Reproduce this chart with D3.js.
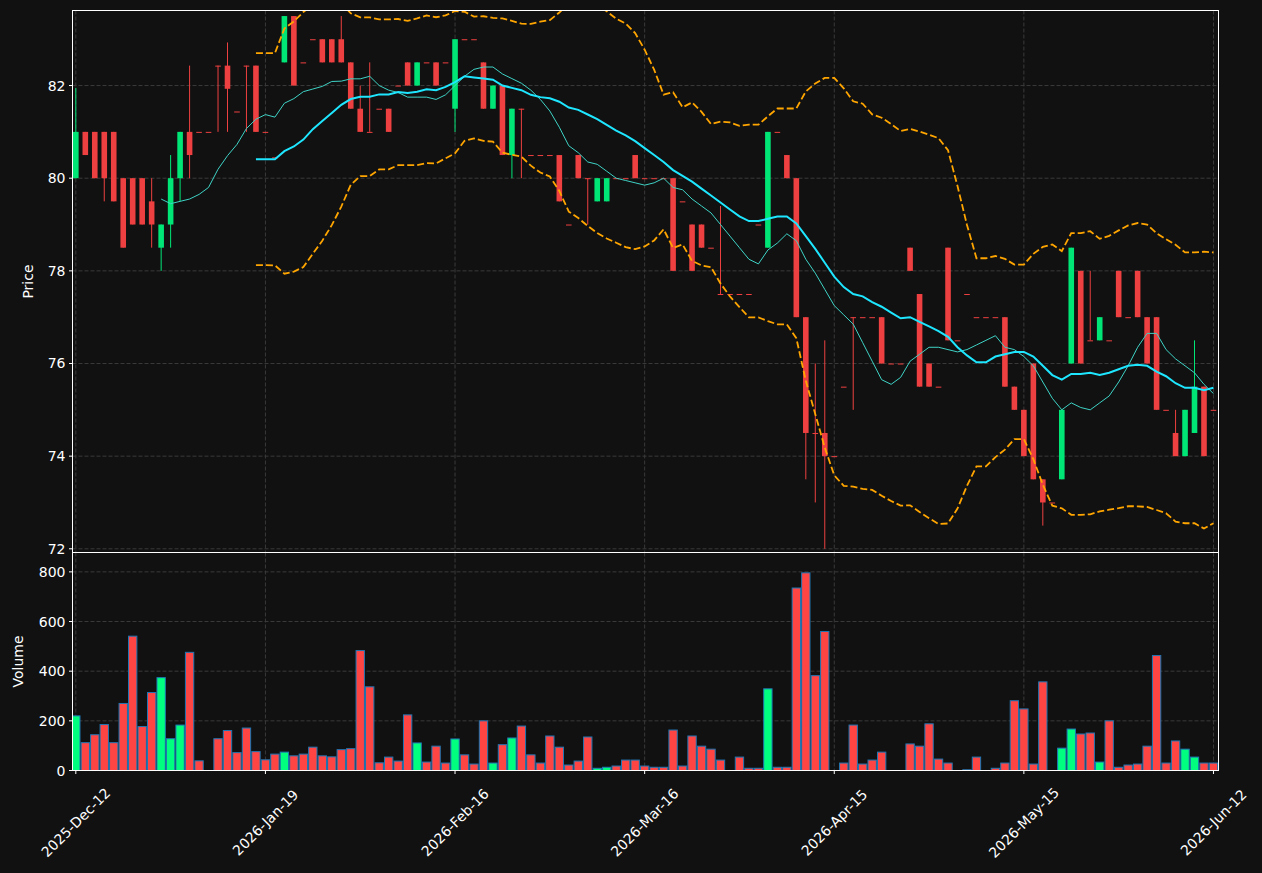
<!DOCTYPE html>
<html>
<head>
<meta charset="utf-8">
<script src="https://cdn.jsdelivr.net/npm/d3@7"></script>
<style>
  html, body { margin: 0; padding: 0; background: #111111; }
  svg { display: block; }
  text { font-family: "DejaVu Sans", sans-serif; fill: #ffffff; }
</style>
</head>
<body>
<svg id="chart" width="1262" height="873"></svg>
<script>
// ---- Data ----
const tickLabels = ["2025-Dec-12", "2026-Jan-19", "2026-Feb-16", "2026-Mar-16", "2026-Apr-15", "2026-May-15", "2026-Jun-12"];
const tickIndex = [0, 20, 40, 60, 80, 100, 120];

const openP = [
  80, 81, 81, 81, 81, 80, 80, 80, 79.5, 78.5,
  79, 80, 81, 81, 81, 82.43, 82.43, 81.44, 82.43, 82.43,
  81, 80.45, 82.5, 83.5, 82.5, 83, 83, 83, 83, 82.5,
  81.5, 81, 81.5, 81.5, 82, 82.5, 82, 82.5, 82.5, 82.5,
  81.5, 83, 83, 82.5, 81.5, 82, 80.5, 81.5, 80.5, 80.5,
  80.5, 80.5, 79, 80.5, 80, 79.5, 79.5, 80, 80, 80.5,
  80, 80, 80, 80, 79.5, 79, 79, 78.5, 77.5, 77.5,
  77.5, 77.5, 79, 78.5, 81, 80.5, 80, 77, 74.5, 74.5,
  74, 75.5, 77, 77, 77, 77, 76, 76, 78.5, 77.5,
  76, 75.5, 78.5, 76.5, 77.5, 77, 77, 77, 77, 75.5,
  75, 76, 73.5, 73, 73.5, 76, 78, 76.5, 76.5, 76.5,
  78, 77, 78, 77, 77, 75, 74.5, 74, 74.5, 75.5,
  75
];
const highP = [
  81.95, 81, 81, 81, 81, 80, 80, 80, 80, 79,
  80.5, 81, 82.43, 81, 81, 82.43, 82.93, 81.44, 82.43, 82.43,
  81, 80.45, 83.5, 83.5, 82.5, 83, 83, 83, 83.5, 82.5,
  82, 82.5, 81.5, 81.5, 82, 82.5, 82.5, 82.5, 82.5, 82.5,
  83, 83, 83, 82.5, 82, 82, 81.5, 81.5, 80.5, 80.5,
  80.5, 80.5, 79, 80.5, 80, 80, 80, 80, 80, 80.5,
  80, 80, 80, 80, 79.5, 79, 79, 78.5, 79.4, 77.5,
  77.5, 77.5, 79, 81, 81, 80.5, 80, 77, 76, 76.5,
  74, 75.5, 77, 77, 77, 77, 76, 76, 78.5, 77.5,
  76, 75.5, 78.5, 76.5, 77.5, 77, 77, 77, 77, 75.5,
  75, 76, 73.5, 73, 75, 78.5, 78, 78, 77, 76.5,
  78, 77, 78, 77, 77, 75, 75, 75, 76.5, 75.5,
  75
];
const lowP = [
  80, 80.5, 80, 79.5, 79.5, 78.5, 79, 79, 78.5, 78,
  78.5, 79.5, 80, 81, 81, 81, 81, 81.44, 81, 81,
  81, 80.45, 82.5, 82, 82.5, 83, 82.5, 82.5, 82.5, 81.5,
  81, 81, 81.5, 81, 82, 82, 82, 82.5, 82, 82.5,
  81, 83, 83, 81.5, 81.5, 80.5, 80, 80, 80.5, 80.5,
  80.5, 79.5, 79, 80, 79, 79.5, 79.5, 80, 80, 80,
  80, 80, 80, 78, 79.5, 78, 78.5, 78.5, 77.5, 77.5,
  77.5, 77.5, 79, 78.5, 81, 80, 77, 73.5, 73, 72,
  74, 75.5, 75, 77, 77, 76, 76, 76, 78, 75.5,
  75.5, 75.5, 76.5, 76.5, 77.5, 77, 77, 77, 75.5, 75,
  74, 73.5, 72.5, 73, 73.5, 76, 76, 76.5, 76.5, 76.5,
  77, 77, 77, 76, 75, 75, 74, 74, 74.5, 74,
  75
];
const closeP = [
  81, 80.5, 80, 80, 79.5, 78.5, 79, 79, 79, 79,
  80, 81, 80.5, 81, 81, 82.43, 81.93, 81.44, 82.43, 81,
  81, 80.45, 83.5, 82, 82.5, 83, 82.5, 82.5, 82.5, 81.5,
  81, 81, 81.5, 81, 82, 82, 82.5, 82.5, 82, 82.5,
  83, 83, 83, 81.5, 82, 80.5, 81.5, 81.5, 80.5, 80.5,
  80.5, 79.5, 79, 80, 80, 80, 80, 80, 80, 80,
  80, 80, 80, 78, 79.5, 78, 78.5, 78.5, 77.5, 77.5,
  77.5, 77.5, 79, 81, 81, 80, 77, 74.5, 74.5, 74,
  74, 75.5, 77, 77, 77, 76, 76, 76, 78, 75.5,
  75.5, 75.5, 76.5, 76.5, 77.5, 77, 77, 77, 75.5, 75,
  74, 73.5, 73, 73, 75, 78.5, 76, 76.5, 77, 76.5,
  77, 77, 77, 76, 75, 75, 74, 75, 75.5, 74,
  75
];
const volume = [
  220, 112, 144, 185, 112, 270, 541, 177, 314, 374,
  128, 183, 476, 39, 0, 128, 161, 72, 171, 76,
  43, 66, 74, 59, 66, 94, 59, 55, 84, 88,
  483, 337, 31, 54, 38, 224, 111, 34, 98, 30,
  127, 63, 26, 200, 30, 104, 131, 179, 63, 30,
  139, 94, 22, 38, 135, 9, 13, 18, 42, 42,
  18, 13, 13, 163, 18, 139, 98, 86, 42, 0,
  54, 9, 9, 329, 13, 13, 735, 796, 382, 560,
  0, 30, 183, 26, 42, 74, 0, 0, 107, 98,
  188, 46, 30, 0, 3, 54, 0, 9, 30, 281,
  248, 26, 357, 0, 90, 167, 147, 151, 34, 200,
  13, 22, 26, 98, 463, 30, 119, 86, 54, 30,
  30
];
const priceTicks = [72, 74, 76, 78, 80, 82];
const volumeTicks = [0, 200, 400, 600, 800];
const maShortPeriod = 10;
const maLongPeriod = 20;
const bbMult = 2;

// ---- Layout ----
const L = 72.5, R = 1218.5;
const pTop = 10.5, pBot = 552.5;
const vTop = 552.5, vBot = 770.5;
const N = closeP.length;

const svg = d3.select("#chart");
svg.append("rect").attr("width", 1262).attr("height", 873).attr("fill", "#111111");

const x = d3.scaleLinear().domain([-0.35, 120.53]).range([L, R]);
const yP = d3.scaleLinear().domain([71.92, 83.62]).range([pBot, pTop]);
const yV = d3.scaleLinear().domain([0, 878]).range([vBot, vTop]);
const step = x(1) - x(0);

const upC = "#00e676", dnC = "#ee4040";
const upV = "#00ff7f", dnV = "#ff4444";
const gridC = "#3a3a3a";

const defs = svg.append("defs");
defs.append("clipPath").attr("id", "clipP").append("rect")
  .attr("x", L).attr("y", pTop).attr("width", R - L).attr("height", pBot - pTop);
defs.append("clipPath").attr("id", "clipV").append("rect")
  .attr("x", L).attr("y", vTop).attr("width", R - L).attr("height", vBot - vTop);

// ---- Grids ----
function vgrid(y0, y1) {
  svg.append("g").selectAll("line").data(tickIndex).join("line")
    .attr("x1", d => x(d)).attr("x2", d => x(d))
    .attr("y1", y0).attr("y2", y1)
    .attr("stroke", gridC).attr("stroke-width", 1).attr("stroke-dasharray", "4,2");
}
vgrid(pTop, pBot);
vgrid(vTop, vBot);
svg.append("g").selectAll("line").data(priceTicks).join("line")
  .attr("x1", L).attr("x2", R).attr("y1", d => yP(d)).attr("y2", d => yP(d))
  .attr("stroke", gridC).attr("stroke-width", 1).attr("stroke-dasharray", "4,2");
svg.append("g").selectAll("line").data(volumeTicks).join("line")
  .attr("x1", L).attr("x2", R).attr("y1", d => yV(d)).attr("y2", d => yV(d))
  .attr("stroke", gridC).attr("stroke-width", 1).attr("stroke-dasharray", "4,2");

// ---- Indicators (derived from closes) ----
function sma(arr, p) {
  return arr.map((v, i) => i < p - 1 ? null : d3.mean(arr.slice(i - p + 1, i + 1)));
}
const maS = sma(closeP, maShortPeriod);
const maL = sma(closeP, maLongPeriod);
const bbStd = closeP.map((v, i) => {
  if (i < maLongPeriod - 1) return null;
  const s = closeP.slice(i - maLongPeriod + 1, i + 1);
  const m = d3.mean(s);
  return Math.sqrt(d3.mean(s, d => (d - m) * (d - m)));
});
const bbUp = maL.map((m, i) => m == null ? null : m + bbMult * bbStd[i]);
const bbLo = maL.map((m, i) => m == null ? null : m - bbMult * bbStd[i]);

const gP = svg.append("g").attr("clip-path", "url(#clipP)");

const line = d3.line().defined(d => d[1] != null).x(d => x(d[0])).y(d => yP(d[1]));
function series(arr) { return arr.map((v, i) => [i, v]); }

// ---- Candles ----
const idx = d3.range(N);
const isUp = i => closeP[i] > openP[i];
const bodyW = 5.6;
gP.append("g").selectAll("line").data(idx).join("line")
  .attr("x1", i => x(i)).attr("x2", i => x(i))
  .attr("y1", i => yP(highP[i])).attr("y2", i => yP(lowP[i]))
  .attr("stroke", i => isUp(i) ? upC : dnC).attr("stroke-width", 1);
gP.append("g").selectAll("rect").data(idx).join("rect")
  .attr("x", i => x(i) - bodyW / 2).attr("width", bodyW)
  .attr("y", i => yP(Math.max(openP[i], closeP[i])))
  .attr("height", i => Math.max(1, Math.abs(yP(openP[i]) - yP(closeP[i]))))
  .attr("fill", i => isUp(i) ? upC : dnC);

// ---- Lines ----
gP.append("path").attr("d", line(series(maS))).attr("fill", "none")
  .attr("stroke", "#3fd3c6").attr("stroke-width", 1);
gP.append("path").attr("d", line(series(maL))).attr("fill", "none")
  .attr("stroke", "#1ee6ff").attr("stroke-width", 2);
gP.append("path").attr("d", line(series(bbUp))).attr("fill", "none")
  .attr("stroke", "#ffa500").attr("stroke-width", 1.8).attr("stroke-dasharray", "7,3");
gP.append("path").attr("d", line(series(bbLo))).attr("fill", "none")
  .attr("stroke", "#ffa500").attr("stroke-width", 1.8).attr("stroke-dasharray", "7,3");

// ---- Volume ----
const volW = step * 0.88;
svg.append("g").attr("clip-path", "url(#clipV)").selectAll("rect").data(idx).join("rect")
  .attr("x", i => x(i) - volW / 2).attr("width", volW)
  .attr("y", i => yV(volume[i])).attr("height", i => yV(0) - yV(volume[i]))
  .attr("fill", i => isUp(i) ? upV : dnV)
  .attr("stroke", "#1f77b4").attr("stroke-width", 1);

// ---- Frames ----
svg.append("rect").attr("x", L).attr("y", pTop).attr("width", R - L).attr("height", pBot - pTop)
  .attr("fill", "none").attr("stroke", "#ffffff").attr("stroke-width", 1);
svg.append("rect").attr("x", L).attr("y", vTop).attr("width", R - L).attr("height", vBot - vTop)
  .attr("fill", "none").attr("stroke", "#ffffff").attr("stroke-width", 1);

// ---- Axes ----
const fs = 14;
const yAxP = svg.append("g");
priceTicks.forEach(t => {
  yAxP.append("line").attr("x1", L - 3.5).attr("x2", L).attr("y1", yP(t)).attr("y2", yP(t)).attr("stroke", "#fff");
  yAxP.append("text").attr("x", L - 7).attr("y", yP(t)).attr("text-anchor", "end")
    .attr("dominant-baseline", "central").attr("font-size", fs).text(t);
});
const yAxV = svg.append("g");
volumeTicks.forEach(t => {
  yAxV.append("line").attr("x1", L - 3.5).attr("x2", L).attr("y1", yV(t)).attr("y2", yV(t)).attr("stroke", "#fff");
  yAxV.append("text").attr("x", L - 7).attr("y", yV(t)).attr("text-anchor", "end")
    .attr("dominant-baseline", "central").attr("font-size", fs).text(t);
});
const xAx = svg.append("g");
tickIndex.forEach((t, k) => {
  xAx.append("line").attr("x1", x(t)).attr("x2", x(t)).attr("y1", vBot).attr("y2", vBot + 3.5).attr("stroke", "#fff");
  xAx.append("text").attr("transform", `translate(${x(t)},${vBot + 52}) rotate(-45)`)
    .attr("text-anchor", "middle").attr("dominant-baseline", "central")
    .attr("font-size", fs).text(tickLabels[k]);
});
svg.append("text").attr("transform", `translate(28,${(pTop + pBot) / 2}) rotate(-90)`)
  .attr("text-anchor", "middle").attr("dominant-baseline", "central").attr("font-size", fs).text("Price");
svg.append("text").attr("transform", `translate(18,${(vTop + vBot) / 2}) rotate(-90)`)
  .attr("text-anchor", "middle").attr("dominant-baseline", "central").attr("font-size", fs).text("Volume");
</script>
</body>
</html>
